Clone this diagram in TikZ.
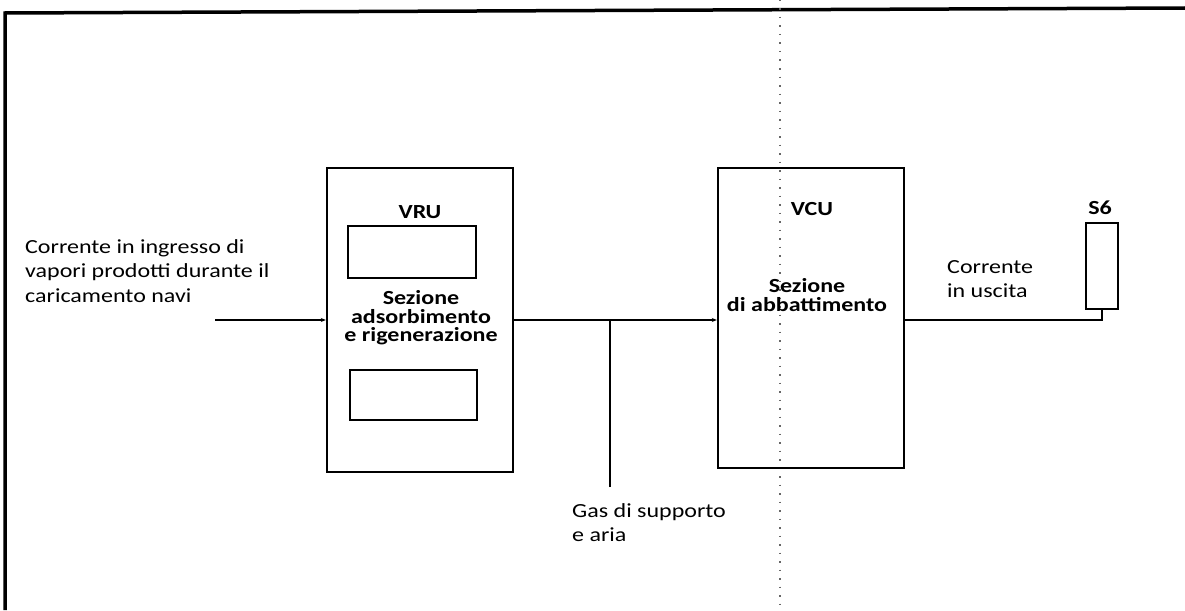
\documentclass[tikz,border=0pt]{standalone}
\usepackage{fontspec}
\setmainfont{Carlito}[FakeStretch=1.2]
\usetikzlibrary{arrows.meta}
\begin{document}
\begin{tikzpicture}[x=1pt,y=-1pt,
  unitbox/.style={draw, line width=2.4pt, inner sep=0pt},
  smallbox/.style={draw, line width=2pt, inner sep=0pt},
  conn/.style={line width=1.4pt},
  arr/.style={conn, -{Stealth[length=5pt,width=4pt]}},
  lbl/.style={font=\fontsize{20}{24.5}\selectfont, align=left, inner sep=0pt},
  blbl/.style={font=\bfseries\fontsize{20}{18.5}\selectfont, align=center, inner sep=0pt}]
\useasboundingbox (0,0) rectangle (1185,610);
\fill[white] (0,0) rectangle (1185,610);

% frame
\draw[line width=3.5pt] (5,610) -- (5,13) -- (1185,8);
% scan line
\draw[black!60, line width=1.2pt, dash pattern=on 1.5pt off 7pt] (780,0) -- (780,610);

% VRU
\node[unitbox, minimum width=186pt, minimum height=304pt] (vru) at (420,320) {};
\node[smallbox, minimum width=128pt, minimum height=52pt] (vrutop) at (412,252) {};
\node[smallbox, minimum width=127pt, minimum height=50pt] (vrubot) at (413.5,395) {};
\node[blbl] (vrulbl) at (420,212) {VRU};
\node[blbl] (vrutxt) at (421,318) {Sezione\\adsorbimento\\e rigenerazione};

% VCU
\node[unitbox, minimum width=186pt, minimum height=300pt] (vcu) at (811,318) {};
\node[blbl] (vculbl) at (812,209) {VCU};
\node[blbl] (vcutxt) at (807,295) {Sezione\\di abbattimento};

% S6
\node[smallbox, minimum width=32pt, minimum height=86pt] (s6) at (1102,265.5) {};
\node[blbl] (s6lbl) at (1100,208) {S6};

% connectors
\coordinate (in) at (215,320);
\draw[arr] (in) -- (in -| vru.west);
\draw[arr] (vru.east |- in) -- (in -| vcu.west);
\coordinate (gas) at (610,487);
\draw[conn] (gas) -- (gas |- in);
\draw[conn] (vcu.east |- in) -- (in -| s6.south) -- (s6.south);

% labels
\node[lbl, anchor=north west] (intxt) at (25,239) {Corrente in ingresso di\\vapori prodotti durante il\\caricamento navi};
\node[lbl, anchor=north west] (outtxt) at (947,260) {Corrente\\in uscita};
\node[lbl, anchor=north west] (gastxt) at (572,503) {Gas di supporto\\e aria};
\end{tikzpicture}
\end{document}
